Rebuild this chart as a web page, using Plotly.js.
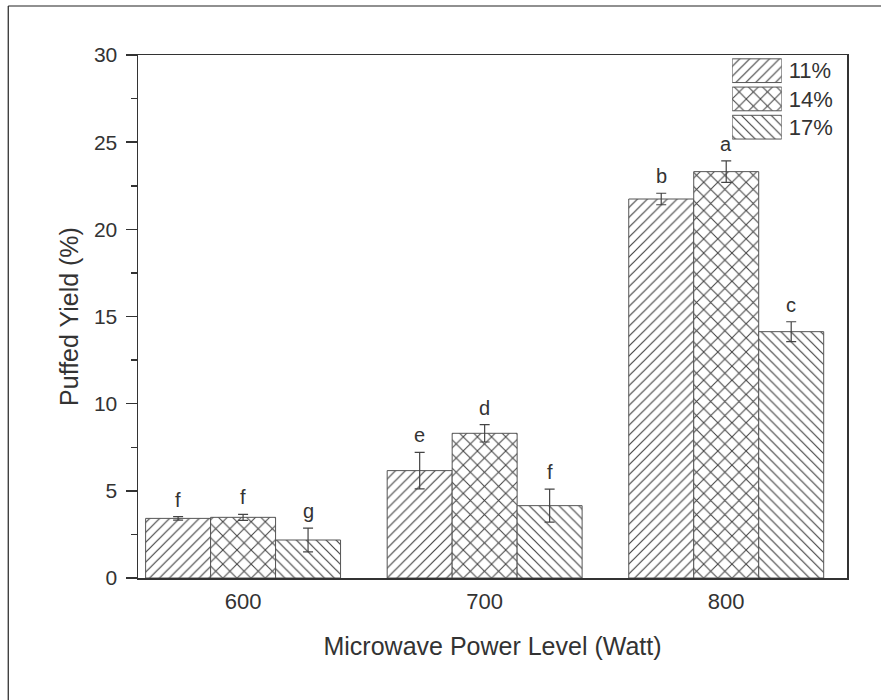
<!DOCTYPE html>
<html>
<head>
<meta charset="utf-8">
<script src="https://cdn.plot.ly/plotly-3.0.1.min.js"></script>
<style>html,body{margin:0;padding:0;background:#fff;}#chart{width:881px;height:700px;}</style>
</head>
<body>
<div id="chart"></div>
<script>
// ---- data ----
var categories = ['600', '700', '800'];
var seriesNames = ['11%', '14%', '17%'];
var values11 = [3.42, 6.16, 21.74];
var values14 = [3.48, 8.30, 23.31];
var values17 = [2.18, 4.15, 14.13];
var errors11 = [0.10, 1.05, 0.33];
var errors14 = [0.17, 0.50, 0.62];
var errors17 = [0.68, 0.95, 0.57];
var letters11 = ['f', 'e', 'b'];
var letters14 = ['f', 'd', 'a'];
var letters17 = ['g', 'f', 'c'];
var yTickVals = [0, 5, 10, 15, 20, 25, 30];
var legendLength = [1, 1, 1];

// ---- styling ----
var font = 'Liberation Sans, Arial, sans-serif';
var ink = '#333';
var hatch = '#444';
var patterns = ['/', 'x', '\\'];
var patternSizes = [7, 10, 7];
var patternSolidity = [0.17, 0.2, 0.17];
var barSlot = 0.269;

var positions = categories.map(function (c, i) { return i; });
var values = [values11, values14, values17];
var errors = [errors11, errors14, errors17];
var letters = [letters11, letters14, letters17];

var traces = [];
for (var i = 0; i < 3; i++) {
  traces.push({
    type: 'bar',
    name: seriesNames[i],
    x: positions,
    y: values[i],
    showlegend: false,
    marker: {
      color: '#fff',
      line: {color: '#555', width: 1},
      pattern: {shape: patterns[i], fgcolor: hatch, bgcolor: '#fff', size: patternSizes[i], solidity: patternSolidity[i], fillmode: 'replace'}
    },
    error_y: {type: 'data', array: errors[i], visible: true, color: '#444', thickness: 1.2, width: 5}
  });
}

// legend drawn as an inset of swatches
traces.push({
  type: 'bar',
  orientation: 'h',
  x: legendLength,
  y: seriesNames,
  xaxis: 'x2',
  yaxis: 'y2',
  width: 0.84,
  showlegend: false,
  hoverinfo: 'skip',
  marker: {
    color: '#fff',
    line: {color: '#555', width: 1},
    pattern: {shape: patterns, fgcolor: hatch, bgcolor: '#fff', size: patternSizes, solidity: patternSolidity, fillmode: 'replace'}
  }
});

// letter annotations
var annotations = [];
for (var s = 0; s < 3; s++) {
  for (var g = 0; g < positions.length; g++) {
    annotations.push({
      x: positions[g] + (s - 1) * barSlot,
      y: values[s][g] + errors[s][g],
      xref: 'x', yref: 'y',
      text: letters[s][g],
      showarrow: false,
      yanchor: 'middle',
      yshift: 17,
      font: {family: font, size: 20, color: ink}
    });
  }
}

var layout = {
  width: 881,
  height: 700,
  margin: {l: 138, r: 34, t: 55, b: 122},
  paper_bgcolor: '#fff',
  plot_bgcolor: '#fff',
  barmode: 'group',
  bargap: 0.193,
  bargroupgap: 0,
  showlegend: false,
  font: {family: font, color: ink},
  xaxis: {
    type: 'linear',
    range: [-0.435, 2.5],
    tickvals: positions,
    ticktext: categories,
    ticks: 'outside',
    ticklen: 3,
    tickcolor: 'rgba(0,0,0,0)',
    showgrid: false,
    zeroline: false,
    showline: true,
    linecolor: ink,
    linewidth: 1.5,
    mirror: true,
    tickfont: {family: font, size: 22, color: ink},
    title: {text: 'Microwave Power Level (Watt)', font: {family: font, size: 25, color: ink}, standoff: 24}
  },
  yaxis: {
    range: [0, 30],
    tickvals: yTickVals,
    ticks: 'outside',
    ticklen: 11,
    tickwidth: 1.5,
    tickcolor: ink,
    ticklabelstandoff: 4,
    minor: {dtick: 2.5, ticks: 'outside', ticklen: 6, tickwidth: 1.5, tickcolor: ink},
    showgrid: false,
    zeroline: false,
    showline: true,
    linecolor: ink,
    linewidth: 1.5,
    mirror: true,
    tickfont: {family: font, size: 21, color: ink},
    title: {text: 'Puffed Yield (%)', font: {family: font, size: 25, color: ink}, standoff: 8}
  },
  xaxis2: {
    domain: [0.838, 0.908],
    range: [0, 1],
    anchor: 'y2',
    visible: false,
    fixedrange: true
  },
  yaxis2: {
    domain: [0.835, 0.997],
    anchor: 'x2',
    type: 'category',
    autorange: 'reversed',
    side: 'right',
    showline: false,
    showgrid: false,
    zeroline: false,
    ticks: '',
    ticklabelstandoff: 6,
    tickfont: {family: font, size: 22, color: ink},
    fixedrange: true
  },
  annotations: annotations,
  shapes: [
    {type: 'line', xref: 'paper', yref: 'paper', x0: -0.183, x1: 1.06, y0: 1.0937, y1: 1.0937, line: {color: '#222', width: 1.2}},
    {type: 'line', xref: 'paper', yref: 'paper', x0: -0.183, x1: -0.183, y0: 1.0937, y1: -0.25, line: {color: '#222', width: 1.2}}
  ]
};

Plotly.newPlot('chart', traces, layout, {displayModeBar: false, staticPlot: true});
</script>
</body>
</html>
